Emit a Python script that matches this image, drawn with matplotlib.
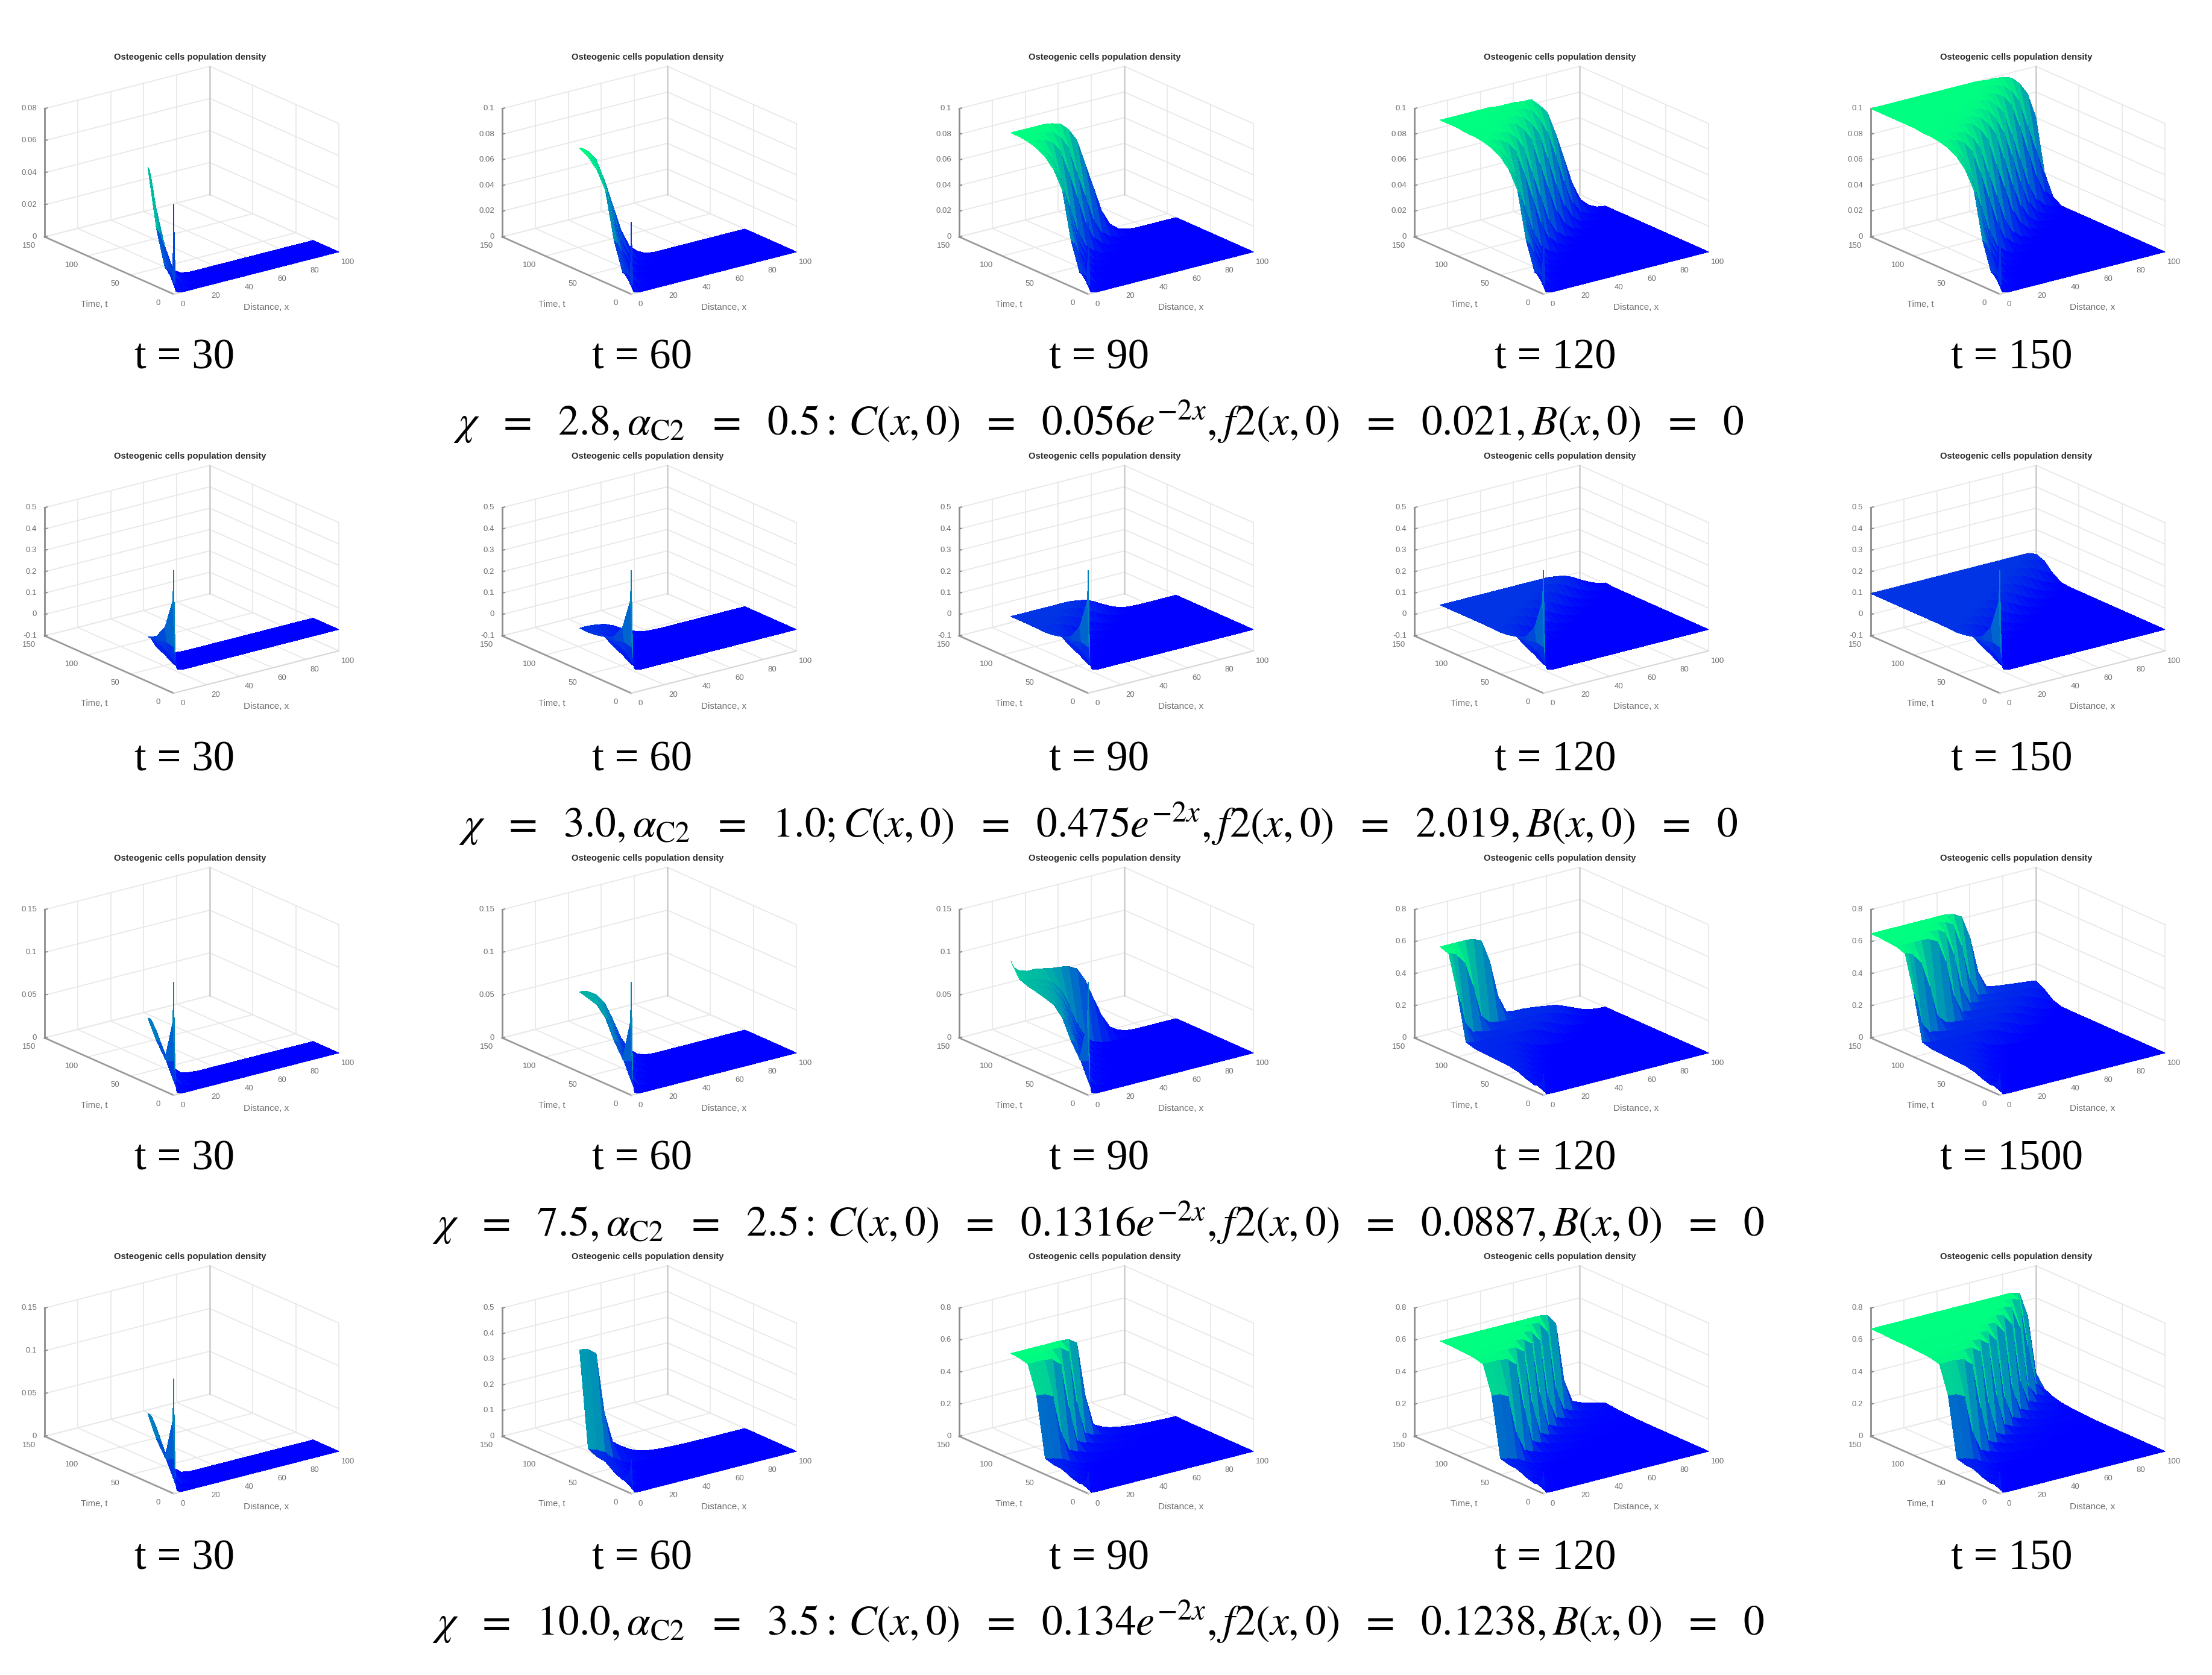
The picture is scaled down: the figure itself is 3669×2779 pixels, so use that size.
import numpy as np
import matplotlib
matplotlib.use("Agg")
import matplotlib.pyplot as plt
from matplotlib.transforms import offset_copy
from mpl_toolkits.mplot3d import proj3d

W, H = 3669, 2779
plt.rcParams['font.family'] = ['Liberation Sans', 'DejaVu Sans']
plt.rcParams['mathtext.fontset'] = 'stix'

# values, thousandths of the density
# rows are time knots, columns are distance knots
x_knots = [0,1,2,5, 10,15,20,25,30, 35,40,45,50,55, 60,65,70,75,80, 85,90,95,100]
t_knots = [0,1,10,20,30,40,50,60,70,80,90,100,110,120,130,140,150]

density_row1 = [
[56,8,1,0, 0,0,0,0,0, 0,0,0,0,0, 0,0,0,0,0, 0,0,0,0],
[12,6,1,0, 0,0,0,0,0, 0,0,0,0,0, 0,0,0,0,0, 0,0,0,0],
[14,13,12,8, 2,0,0,0,0, 0,0,0,0,0, 0,0,0,0,0, 0,0,0,0],
[36,35,33,24, 8,2,0,0,0, 0,0,0,0,0, 0,0,0,0,0, 0,0,0,0],
[72,70,65,45, 15,4,1,0,0, 0,0,0,0,0, 0,0,0,0,0, 0,0,0,0],
[85,84,82,70, 42,18,6,2,0, 0,0,0,0,0, 0,0,0,0,0, 0,0,0,0],
[92,92,91,85, 68,42,20,8,2, 0,0,0,0,0, 0,0,0,0,0, 0,0,0,0],
[96,96,95,92, 84,66,45,24,10, 4,1,0,0,0, 0,0,0,0,0, 0,0,0,0],
[98,98,98,98, 96,92,84,66,45, 24,10,4,1,0, 0,0,0,0,0, 0,0,0,0],
[99,99,99,99, 98,97,96,90,80, 60,40,20,8,3, 1,0,0,0,0, 0,0,0,0],
[99,99,99,99, 99,99,99,98,96, 90,80,60,40,20, 8,3,1,0,0, 0,0,0,0],
[100,100,100,100, 100,99,98,98,98, 97,95,88,78,58, 36,18,7,2,1, 0,0,0,0],
[100,100,100,100, 100,100,100,100,99, 99,98,97,94,86, 74,54,32,14,5, 2,0,0,0],
[100,100,100,100, 100,100,100,100,100, 99,99,99,98,98, 92,84,66,45,24, 10,4,1,0],
[100,100,100,100, 100,100,100,100,100, 100,100,99,99,99, 98,96,92,84,66, 45,24,10,4],
[100,100,100,100, 100,100,100,100,100, 100,100,100,100,100, 99,99,98,96,90, 80,60,40,20],
[100,100,100,100, 100,100,100,100,100, 100,100,100,100,100, 100,100,99,99,98, 96,90,80,60],
]

density_row2 = [
[475,64,9,0, 0,0,0,0,0, 0,0,0,0,0, 0,0,0,0,0, 0,0,0,0],
[330,110,30,1, 0,0,0,0,0, 0,0,0,0,0, 0,0,0,0,0, 0,0,0,0],
[190,120,70,10, 1,0,0,0,0, 0,0,0,0,0, 0,0,0,0,0, 0,0,0,0],
[130,110,90,35, 6,1,0,0,0, 0,0,0,0,0, 0,0,0,0,0, 0,0,0,0],
[110,105,98,55, 20,6,1,0,0, 0,0,0,0,0, 0,0,0,0,0, 0,0,0,0],
[100,100,98,80, 52,22,8,2,0, 0,0,0,0,0, 0,0,0,0,0, 0,0,0,0],
[95,95,95,90, 70,48,28,12,4, 1,0,0,0,0, 0,0,0,0,0, 0,0,0,0],
[97,97,97,97, 93,86,70,48,28, 12,4,1,0,0, 0,0,0,0,0, 0,0,0,0],
[98,98,98,98, 98,98,93,86,70, 48,28,12,4,1, 0,0,0,0,0, 0,0,0,0],
[98,98,98,98, 98,98,98,98,93, 86,70,48,28,12, 4,1,0,0,0, 0,0,0,0],
[98,98,98,98, 98,98,98,98,98, 98,93,86,70,48, 28,12,4,1,0, 0,0,0,0],
[98,98,98,98, 98,98,98,98,98, 98,98,98,93,86, 70,48,28,12,4, 1,0,0,0],
[98,98,98,98, 98,98,98,98,98, 98,98,98,98,98, 93,86,70,48,28, 12,4,1,0],
[98,98,98,98, 98,98,98,98,98, 98,98,98,98,98, 98,98,93,86,70, 48,28,12,4],
[98,98,98,98, 98,98,98,98,98, 98,98,98,98,98, 98,98,98,98,93, 86,70,48,28],
[98,98,98,98, 98,98,98,98,98, 98,98,98,98,98, 98,98,98,98,98, 98,93,86,70],
[98,98,98,98, 98,98,98,98,98, 98,98,98,98,98, 98,98,98,98,98, 98,98,98,85],
]

density_row3 = [
[132,18,2,0, 0,0,0,0,0, 0,0,0,0,0, 0,0,0,0,0, 0,0,0,0],
[85,40,8,0, 0,0,0,0,0, 0,0,0,0,0, 0,0,0,0,0, 0,0,0,0],
[38,35,28,12, 2,0,0,0,0, 0,0,0,0,0, 0,0,0,0,0, 0,0,0,0],
[55,54,52,38, 15,4,1,0,0, 0,0,0,0,0, 0,0,0,0,0, 0,0,0,0],
[77,76,74,60, 32,12,3,1,0, 0,0,0,0,0, 0,0,0,0,0, 0,0,0,0],
[88,88,87,80, 58,30,12,4,1, 0,0,0,0,0, 0,0,0,0,0, 0,0,0,0],
[91,91,91,88, 78,55,30,13,4, 1,0,0,0,0, 0,0,0,0,0, 0,0,0,0],
[94,94,94,92, 86,74,52,28,12, 4,1,0,0,0, 0,0,0,0,0, 0,0,0,0],
[96,96,96,95, 92,86,75,55,30, 13,4,1,0,0, 0,0,0,0,0, 0,0,0,0],
[100,99,98,97, 95,92,86,76,56, 32,14,5,1,0, 0,0,0,0,0, 0,0,0,0],
[117,112,108,103, 100,100,98,96,95, 93,88,72,48,26, 10,4,1,0,0, 0,0,0,0],
[400,380,340,200, 130,118,110,105,103, 100,98,95,88,72, 50,28,12,4,1, 0,0,0,0],
[620,620,615,600, 540,380,180,130,118, 110,105,102,100,97, 92,80,62,38,18, 7,2,0,0],
[640,640,640,640, 640,640,635,610,470, 240,130,122,120,115, 108,100,92,72,50, 28,12,4,1],
[645,645,645,645, 645,645,645,645,640, 610,470,240,135,125, 118,112,105,100,93, 80,62,38,18],
[650,650,650,650, 650,650,650,650,650, 650,640,610,470,240, 135,125,118,112,106, 100,95,85,62],
[650,650,650,650, 650,650,650,650,650, 650,650,650,640,610, 470,240,135,125,118, 112,106,100,93],
]

density_row4 = [
[134,18,2,0, 0,0,0,0,0, 0,0,0,0,0, 0,0,0,0,0, 0,0,0,0],
[85,40,8,0, 0,0,0,0,0, 0,0,0,0,0, 0,0,0,0,0, 0,0,0,0],
[38,35,28,12, 2,0,0,0,0, 0,0,0,0,0, 0,0,0,0,0, 0,0,0,0],
[55,54,52,38, 15,4,1,0,0, 0,0,0,0,0, 0,0,0,0,0, 0,0,0,0],
[80,79,77,62, 30,10,2,0,0, 0,0,0,0,0, 0,0,0,0,0, 0,0,0,0],
[85,85,84,78, 55,28,10,3,1, 0,0,0,0,0, 0,0,0,0,0, 0,0,0,0],
[100,98,96,90, 72,42,18,6,2, 0,0,0,0,0, 0,0,0,0,0, 0,0,0,0],
[470,470,470,465, 440,200,80,55,35, 20,12,8,5,3, 2,1,1,0,0, 0,0,0,0],
[640,640,640,640, 640,630,590,300,85, 60,42,30,20,12, 8,5,3,2,1, 1,0,0,0],
[655,655,655,655, 655,655,655,655,620, 280,85,60,42,30, 22,15,10,7,5, 3,2,1,1],
[660,660,660,660, 660,660,660,660,660, 655,620,280,85,58, 40,30,22,16,12, 9,7,5,4],
[662,662,662,662, 662,662,662,662,662, 662,662,655,590,220, 80,58,42,30,22, 16,12,9,6],
[665,665,665,665, 665,665,665,665,665, 665,665,665,665,655, 590,220,80,58,42, 30,22,16,10],
[665,665,665,665, 665,665,665,665,665, 665,665,665,665,665, 665,655,590,220,80, 58,42,28,16],
[668,668,668,668, 668,668,668,668,668, 668,668,668,668,668, 668,668,668,655,520, 140,72,50,30],
[670,670,670,670, 670,670,670,670,670, 670,670,670,670,670, 670,670,670,670,670, 650,350,100,55],
[670,670,670,670, 670,670,670,670,670, 670,670,670,670,670, 670,670,670,670,670, 670,655,500,130],
]

row_tables = [density_row1, density_row2, density_row3, density_row4]

# time each column of panels stops at, and the label under it
panel_times = [30, 60, 90, 120, 150]
time_labels = [
    ["t = 30", "t = 60", "t = 90", "t = 120", "t = 150"],
    ["t = 30", "t = 60", "t = 90", "t = 120", "t = 150"],
    ["t = 30", "t = 60", "t = 90", "t = 120", "t = 1500"],
    ["t = 30", "t = 60", "t = 90", "t = 120", "t = 150"],
]

ticks_08 = ["0", "0.02", "0.04", "0.06", "0.08"]
ticks_10 = ["0", "0.02", "0.04", "0.06", "0.08", "0.1"]
ticks_row2 = ["-0.1", "0", "0.1", "0.2", "0.3", "0.4", "0.5"]
ticks_15 = ["0", "0.05", "0.1", "0.15"]
ticks_50 = ["0", "0.1", "0.2", "0.3", "0.4", "0.5"]
ticks_80 = ["0", "0.2", "0.4", "0.6", "0.8"]
z_ticks = [
    [ticks_08, ticks_10, ticks_10, ticks_10, ticks_10],
    [ticks_row2, ticks_row2, ticks_row2, ticks_row2, ticks_row2],
    [ticks_15, ticks_15, ticks_15, ticks_80, ticks_80],
    [ticks_15, ticks_50, ticks_80, ticks_80, ticks_80],
]
x_ticks = [0, 20, 40, 60, 80, 100]
t_ticks = [0, 50, 100, 150]

captions = [
    r"$\chi\ \ =\ \ 2.8,\alpha_{\mathrm{C2}}\ \ =\ \ 0.5{:}\,C(x,0)\ \ =\ \ 0.056e^{-2x},f2(x,0)\ \ =\ \ 0.021,B(x,0)\ \ =\ \ 0$",
    r"$\chi\ \ =\ \ 3.0,\alpha_{\mathrm{C2}}\ \ =\ \ 1.0;C(x,0)\ \ =\ \ 0.475e^{-2x},f2(x,0)\ \ =\ \ 2.019,B(x,0)\ \ =\ \ 0$",
    r"$\chi\ \ =\ \ 7.5,\alpha_{\mathrm{C2}}\ \ =\ \ 2.5{:}\,C(x,0)\ \ =\ \ 0.1316e^{-2x},f2(x,0)\ \ =\ \ 0.0887,B(x,0)\ \ =\ \ 0$",
    r"$\chi\ \ =\ \ 10.0,\alpha_{\mathrm{C2}}\ \ =\ \ 3.5{:}\,C(x,0)\ \ =\ \ 0.134e^{-2x},f2(x,0)\ \ =\ \ 0.1238,B(x,0)\ \ =\ \ 0$",
]

# layout, in pixels of the full picture
front_x = [288, 1047, 1805, 2560, 3317]
front_y = [488, 1150, 1817, 2478]
label_x = [306, 1065, 1823, 2580, 3337]
label_y = [594, 1261, 1923, 2586]
caption_y = [700, 1367, 2029, 2691]
ELEV, AZIM = 19.7, -127.2
BOX = (344, 354, 226)

fig = plt.figure(figsize=(W / 100, H / 100), dpi=100, facecolor='white')


def px(x, y):
    return x / W, 1 - y / H


def make_axes(zmin, zmax, rect):
    ax = fig.add_axes(rect, projection='3d', proj_type='ortho', computed_zorder=False)
    ax.set_box_aspect(BOX)
    ax.view_init(elev=ELEV, azim=AZIM)
    ax.set_xlim(0, 100, view_margin=0)
    ax.set_ylim(0, 150, view_margin=0)
    ax.set_zlim(zmin, zmax, view_margin=0)
    ax.set_axis_off()
    ax.patch.set_visible(False)
    return ax


def to_pixels(ax, x, t, z):
    a, b, _ = proj3d.proj_transform(x, t, z, ax.get_proj())
    return ax.transData.transform((a, b))


# work out once how big an axes has to be for the box to have the right size
side = 1000
probe = make_axes(0, 1, [0, 0, side / W, side / H])
probe.apply_aspect()
f0 = to_pixels(probe, 0, 0, 0)
r0 = to_pixels(probe, 100, 0, 0)
scale = 274 / (r0[0] - f0[0])
probe.remove()
side = side * scale
f0 = f0 * scale

X, T = np.meshgrid(x_knots, t_knots)

for r, table in enumerate(row_tables):
    Z = np.array(table) / 1000
    for c, tend in enumerate(panel_times):
        labels = z_ticks[r][c]
        zvals = [float(s) for s in labels]
        zmin, zmax = zvals[0], zvals[-1]
        left = front_x[c] - f0[0]
        bottom = (H - front_y[r]) - f0[1]
        ax = make_axes(zmin, zmax, [left / W, bottom / H, side / W, side / H])
        ax.apply_aspect()

        # grid on the two back walls and the floor
        grid = dict(color='#e8e8e8', lw=1.3, zorder=1)
        for z in zvals:
            ax.plot([0, 100], [150, 150], [z, z], **grid)
            ax.plot([100, 100], [0, 150], [z, z], **grid)
        for x in x_ticks:
            ax.plot([x, x], [150, 150], [zmin, zmax], **grid)
            ax.plot([x, x], [0, 150], [zmin, zmin], **grid)
        for t in t_ticks:
            ax.plot([100, 100], [t, t], [zmin, zmax], **grid)
            ax.plot([0, 100], [t, t], [zmin, zmin], **grid)
        ax.plot([100, 100], [150, 150], [zmin, zmax], color='#cccccc', lw=1.8, zorder=1)

        # axis lines and tick marks
        ax.plot([0, 0], [150, 150], [zmin, zmax], color='#8c8c8c', lw=2, zorder=1)
        ax.plot([0, 0], [0, 150], [zmin, zmin], color='#9a9a9a', lw=2, zorder=1)
        ax.plot([0, 100], [0, 0], [zmin, zmin], color='#d8d8d8', lw=1.5, zorder=1)

        tr_z = offset_copy(ax.transData, fig=fig, x=-13, y=0, units='dots')
        tr_t = offset_copy(ax.transData, fig=fig, x=-26, y=-15, units='dots')
        tr_x = offset_copy(ax.transData, fig=fig, x=15, y=-17, units='dots')
        tick_style = dict(fontsize=9.5, color='#6e6e6e', va='center')
        for z, s in zip(zvals, labels):
            ax.plot([0, 1.5], [150, 150], [z, z], color='#8c8c8c', lw=1.5, zorder=1)
            ax.text(0, 150, z, s, ha='right', transform=tr_z, **tick_style)
        for t in t_ticks:
            ax.text(0, t, zmin, str(t), ha='center', transform=tr_t, **tick_style)
        for x in x_ticks:
            ax.text(x, 0, zmin, str(x), ha='center', transform=tr_x, **tick_style)

        # surface up to the panel's time, coloured over the panel's own range
        keep = np.array(t_knots) <= tend
        ax.plot_surface(X[keep], T[keep], Z[keep], cmap='winter', vmin=Z[keep].min(), vmax=Z[keep].max(),
                        rstride=1, cstride=1, linewidth=0, antialiased=False, shade=False, zorder=2)

        fx, fy = front_x[c], front_y[r]
        fig.text(*px(fx + 27, fy - 393), "Osteogenic cells population density", fontsize=10.6,
                 fontweight='bold', color='#2a2a2a', ha='center', va='center')
        fig.text(*px(fx - 132, fy + 17), "Time, t", fontsize=10.5, color='#6e6e6e', ha='center', va='center')
        fig.text(*px(fx + 154, fy + 22), "Distance, x", fontsize=11, color='#6e6e6e', ha='center', va='center')
        fig.text(*px(label_x[c], label_y[r]), time_labels[r][c], fontsize=51,
                 family='Liberation Serif', ha='center', va='center', color='black')

    fig.text(*px(1822, caption_y[r]), captions[r], fontsize=50, ha='center', va='center', color='black')

fig.savefig('out.png', dpi=100, facecolor='white')
